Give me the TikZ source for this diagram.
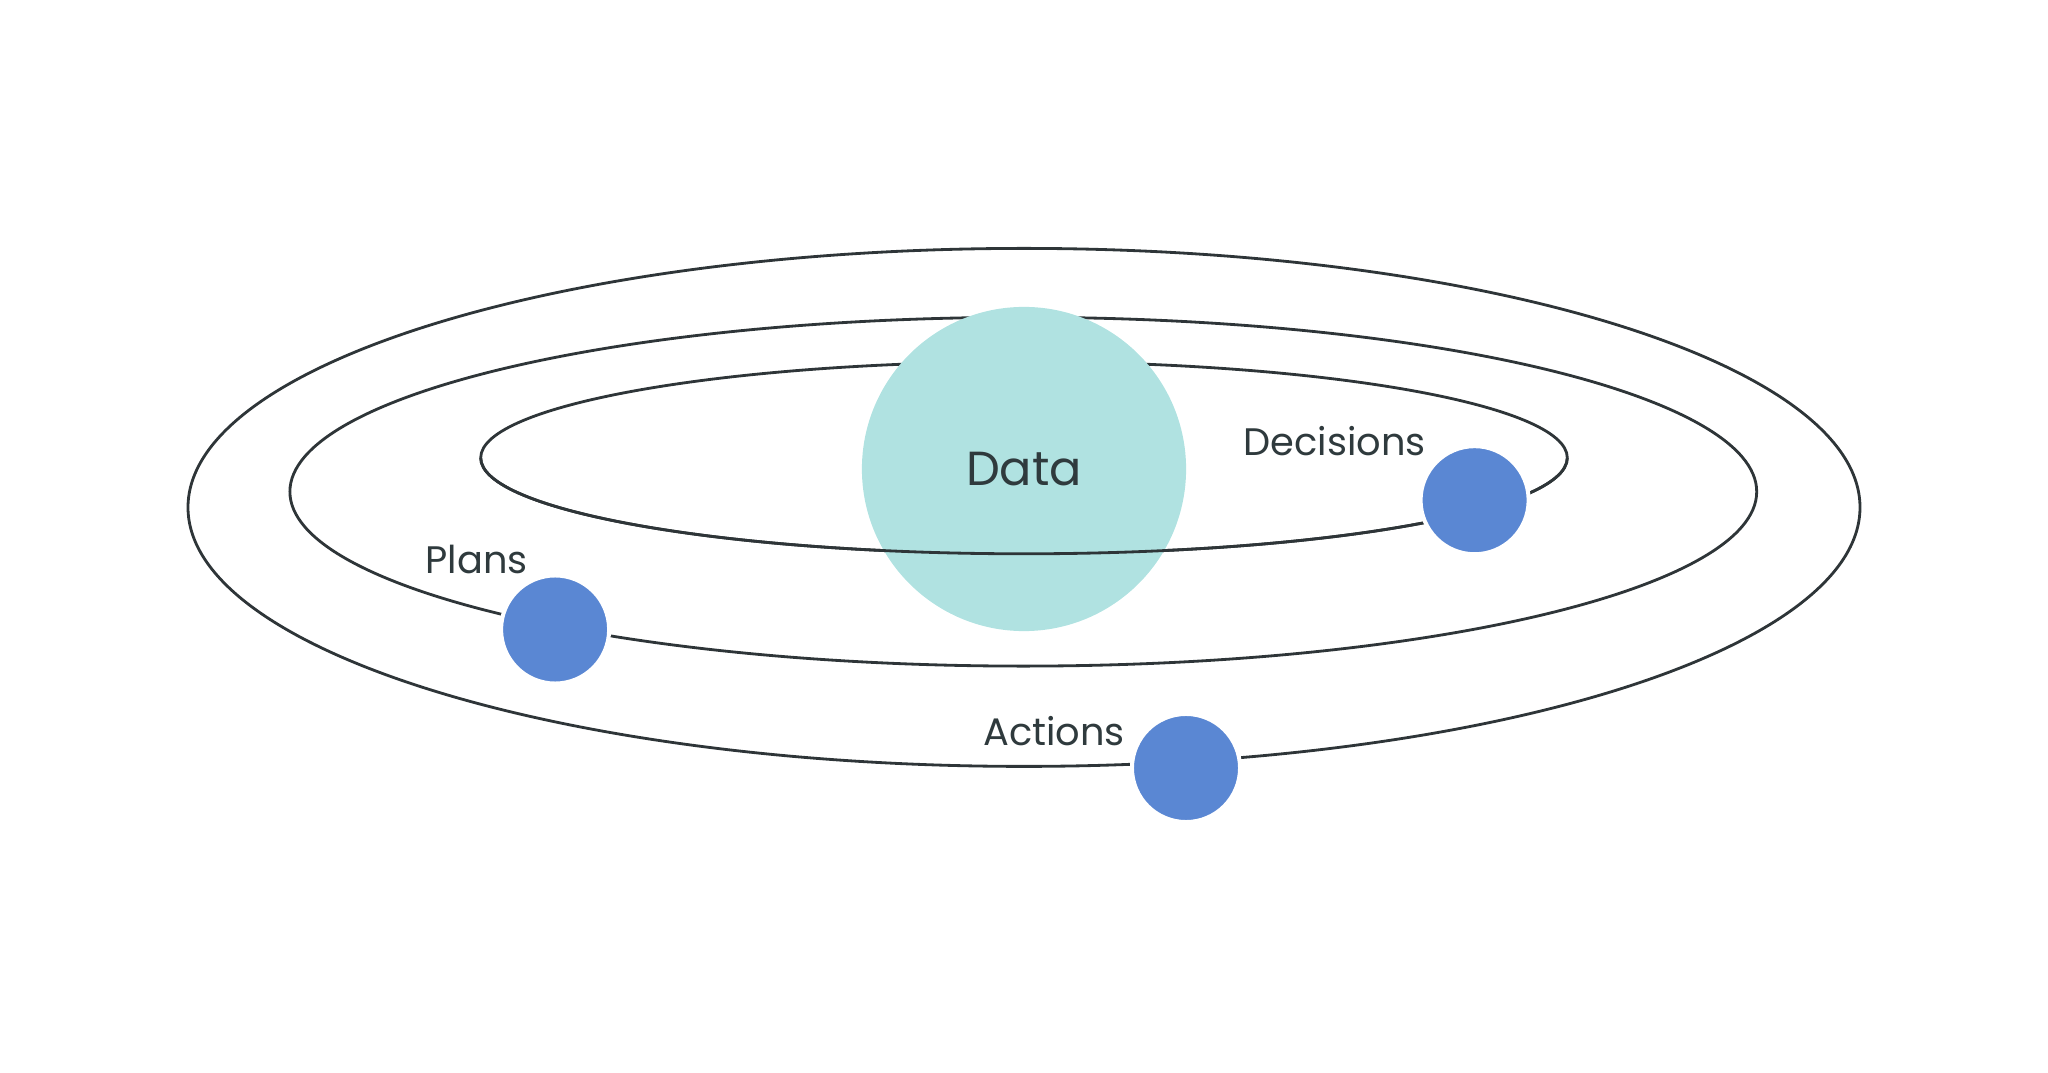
\documentclass[tikz,border=0pt]{standalone}
\usepackage{fontspec}
\setmainfont{Poppins}
\usepackage{tikz}
\usetikzlibrary{calc}

\definecolor{orbitgray}{HTML}{2E3538}
\definecolor{datateal}{HTML}{B0E2E1}
\definecolor{planetblue}{HTML}{5A87D3}
\definecolor{labelgray}{HTML}{2F3A3D}

\tikzset{
    orbit/.style={draw=orbitgray, line width=0.8pt},
    planet/.style={circle, fill=planetblue, draw=white, line width=0.04cm, minimum size=1.08cm, inner sep=0pt},
    tag/.style={text=labelgray, font=\fontsize{10.9}{12}\selectfont}
}

\begin{document}
\begin{tikzpicture}[x=0.01cm, y=0.01cm]
        \useasboundingbox (0,0) rectangle (2048,1072);
        % Orbits
        \draw[orbit] (1024,564.6) ellipse [x radius=836, y radius=259];
        \draw[orbit] (1023.3,580.3) ellipse [x radius=733.4, y radius=174.4];
        \draw[orbit] (1024,614.2) ellipse [x radius=543.3, y radius=96];

        % Data in the middle
        \node[circle, fill=datateal, minimum size=3.24cm, inner sep=0pt, text=labelgray, font=\fontsize{13.6}{16}\selectfont] (data) at (1024,603) {Data};

        % front half of the inner orbit
        \draw[orbit] (480.7,614.2) arc[start angle=180, end angle=360, x radius=543.3, y radius=96];

        % Planets
        \node[planet] (decisions) at (1474.6,571.8) {};
        \node[planet] (plans) at (555.1,442.5) {};
        \node[planet] (actions) at (1186,304) {};

        % Labels
        \node[tag] (decisionslabel) at (1334.5,630.5) {Decisions};
        \node[tag] (planslabel) at (476.7,513) {Plans};
        \node[tag] (actionslabel) at (1054,340.6) {Actions};
\end{tikzpicture}
\end{document}
